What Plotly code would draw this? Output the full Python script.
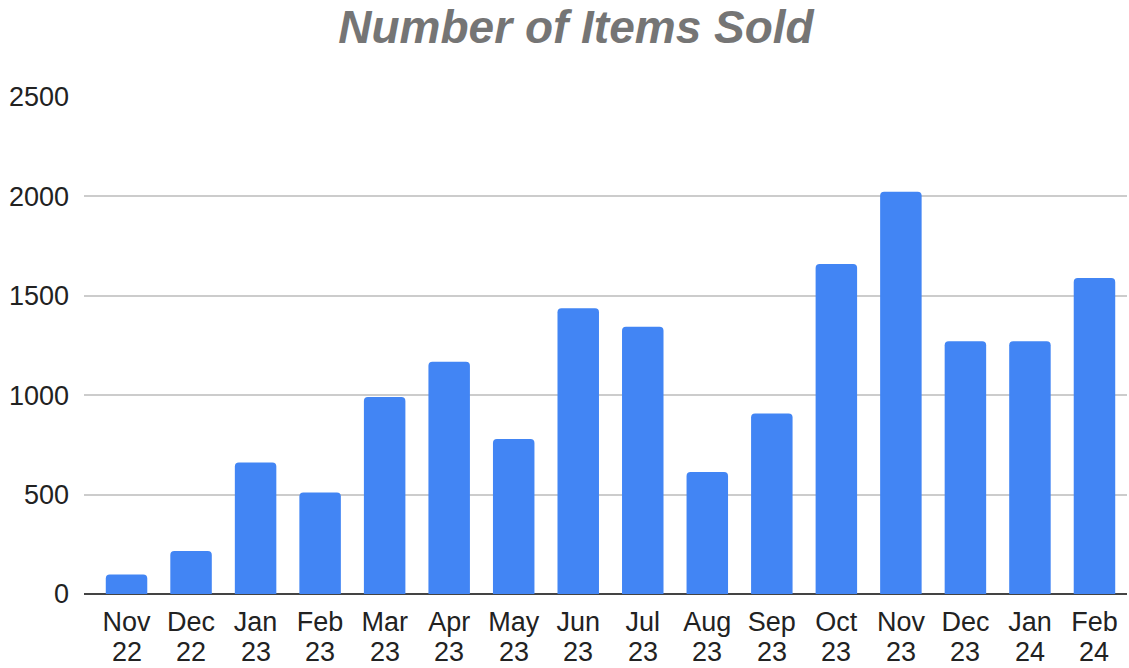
import plotly.graph_objects as go

months = ["Nov", "Dec", "Jan", "Feb", "Mar", "Apr", "May", "Jun",
          "Jul", "Aug", "Sep", "Oct", "Nov", "Dec", "Jan", "Feb"]
years = ["22", "22", "23", "23", "23", "23", "23", "23",
         "23", "23", "23", "23", "23", "23", "24", "24"]
items_sold = [98, 216, 662, 510, 991, 1168, 780, 1437,
              1344, 614, 908, 1660, 2024, 1272, 1272, 1589]
y_ticks = [0, 500, 1000, 1500, 2000, 2500]

idx = list(range(len(months)))

fig = go.Figure(go.Bar(
    x=idx, y=items_sold,
    marker=dict(color="#4285F4", line=dict(width=0)),
    hoverinfo="y",
))

font_family = "Liberation Sans, Arial, sans-serif"

annotations = [
    dict(x=i, y=0, xref="x", yref="y", text=yr, showarrow=False,
         yanchor="top", yshift=-41,
         font=dict(family=font_family, size=27, color="#222222"))
    for i, yr in zip(idx, years)
]

fig.update_layout(
    width=1129, height=668,
    margin=dict(l=84, r=2, t=97, b=74),
    paper_bgcolor="white", plot_bgcolor="white",
    bargap=0.357,
    barcornerradius=4,
    showlegend=False,
    title=dict(
        text="Number of Items Sold",
        x=576 / 1129, xref="container", xanchor="center",
        y=1 - 27 / 668, yref="container", yanchor="middle",
        font=dict(family=font_family, size=46, color="#757575",
                  weight="bold", style="italic"),
    ),
    xaxis=dict(
        range=[-0.659, 15.504],
        tickmode="array", tickvals=idx, ticktext=months,
        ticks="", showgrid=False, zeroline=False,
        showline=False,
        tickfont=dict(family=font_family, size=27, color="#222222"),
        ticklabelstandoff=9,
    ),
    yaxis=dict(
        range=[0, 2500],
        tickmode="array", tickvals=y_ticks,
        ticktext=[str(v) for v in y_ticks],
        showgrid=True, gridcolor="#cccccc", gridwidth=1.5,
        zeroline=True, zerolinecolor="#444444", zerolinewidth=2,
        ticks="", showline=False,
        tickfont=dict(family=font_family, size=27, color="#222222"),
        ticklabelstandoff=14,
    ),
    annotations=annotations,
)

fig.write_html(
    "out.html",
    config={"displayModeBar": False},
    post_script="document.body.style.margin='0';document.body.style.overflow='hidden';",
)
